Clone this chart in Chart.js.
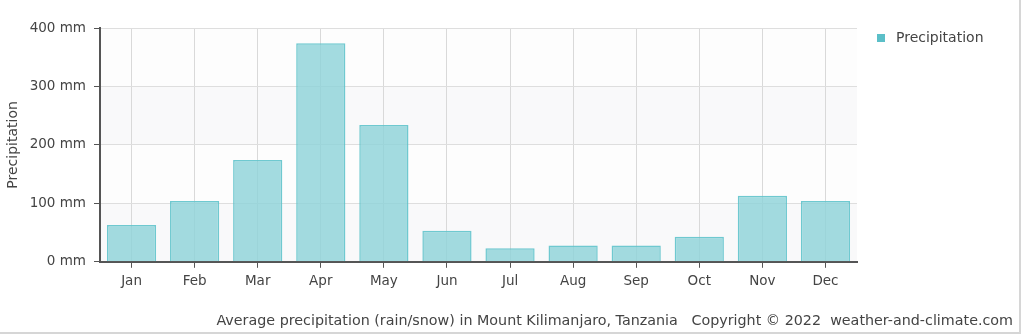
<!DOCTYPE html>
<html>
<head>
<meta charset="utf-8">
<script src="https://cdn.jsdelivr.net/npm/chart.js@4/dist/chart.umd.min.js"></script>
<style>
    html, body { margin: 0; padding: 0; background: #fff; overflow: hidden; }
    canvas { display: block; }
</style>
</head>
<body>
<canvas id="precipChart" width="1024" height="334"></canvas>
<script>
const months = ['Jan', 'Feb', 'Mar', 'Apr', 'May', 'Jun', 'Jul', 'Aug', 'Sep', 'Oct', 'Nov', 'Dec'];
const precipitation = [63, 104, 174, 374, 234, 53, 23, 28, 28, 43, 113, 104];
const seriesName = 'Precipitation';
const footer = 'Average precipitation (rain/snow) in Mount Kilimanjaro, Tanzania   Copyright \u00a9 2022  weather-and-climate.com';

const fontFamily = 'DejaVu Sans';
Chart.defaults.font.family = fontFamily;
Chart.defaults.color = '#444';

// faint alternating bands behind the bars
const plotBands = {
    id: 'plotBands',
    beforeDraw(chart) {
        const { ctx, chartArea: a, scales: { y } } = chart;
        ctx.save();
        ctx.fillStyle = '#fdfdfd';
        ctx.fillRect(a.left, a.top, a.right - a.left, a.bottom - a.top);
        ctx.fillStyle = '#f9f9fa';
        for (let v = 0; v < 400; v += 200) {
            const top = y.getPixelForValue(v + 100), bottom = y.getPixelForValue(v);
            ctx.fillRect(a.left, top, a.right - a.left, bottom - top);
        }
        ctx.restore();
    }
};

// legend key to the right of the plot, footer line, and the frame round the image
const extras = {
    id: 'extras',
    afterDraw(chart) {
        const { ctx, chartArea: a, width, height } = chart;
        ctx.save();
        ctx.fillStyle = '#5bbfc8';
        ctx.fillRect(a.right + 20, a.top + 6, 8, 8);
        ctx.fillStyle = '#444';
        ctx.font = '14px ' + fontFamily;
        ctx.textBaseline = 'middle';
        ctx.textAlign = 'left';
        ctx.fillText(seriesName, a.right + 39, a.top + 10);
        ctx.font = '14.3px ' + fontFamily;
        ctx.textAlign = 'right';
        ctx.fillText(footer, width - 11, 321);

        ctx.strokeStyle = '#d6d6d6';
        ctx.lineWidth = 2;
        ctx.beginPath();
        ctx.moveTo(width - 4, 0);
        ctx.lineTo(width - 4, height - 1);
        ctx.lineTo(0, height - 1);
        ctx.stroke();
        ctx.restore();
    }
};

const ctx = document.getElementById('precipChart').getContext('2d');
const chart = new Chart(ctx, {
    type: 'bar',
    data: {
        labels: months,
        datasets: [
            {
                label: seriesName,
                data: precipitation,
                backgroundColor: 'rgba(140, 210, 216, 0.8)',
                borderColor: 'rgba(95, 195, 203, 0.9)',
                borderWidth: 1.5,
                barPercentage: 0.78,
                categoryPercentage: 1
            }
        ]
    },
    options: {
        responsive: false,
        animation: false,
        layout: {
            padding: { top: 28, right: 167, left: 0, bottom: 38 }
        },
        scales: {
            x: {
                grid: {
                    offset: false,
                    color: '#d9d9d9',
                    tickColor: '#555',
                    tickLength: 6
                },
                border: { color: '#555', width: 2 },
                ticks: { font: { size: 13.5 }, padding: 6, color: '#444', maxRotation: 0 }
            },
            y: {
                min: 0,
                max: 400,
                afterFit(scale) { scale.width = 100; },
                grid: { color: '#dedede', tickColor: '#555', tickLength: 6 },
                border: { color: '#555', width: 2 },
                ticks: {
                    stepSize: 100,
                    font: { size: 13.5 },
                    padding: 8,
                    color: '#444',
                    callback: (v) => v + ' mm'
                },
                title: {
                    display: true,
                    text: seriesName,
                    font: { size: 14 },
                    color: '#444',
                    padding: { top: 5, bottom: 0 }
                }
            }
        },
        plugins: {
            legend: { display: false },
            tooltip: { enabled: false }
        }
    },
    plugins: [plotBands, extras]
});
</script>
</body>
</html>
